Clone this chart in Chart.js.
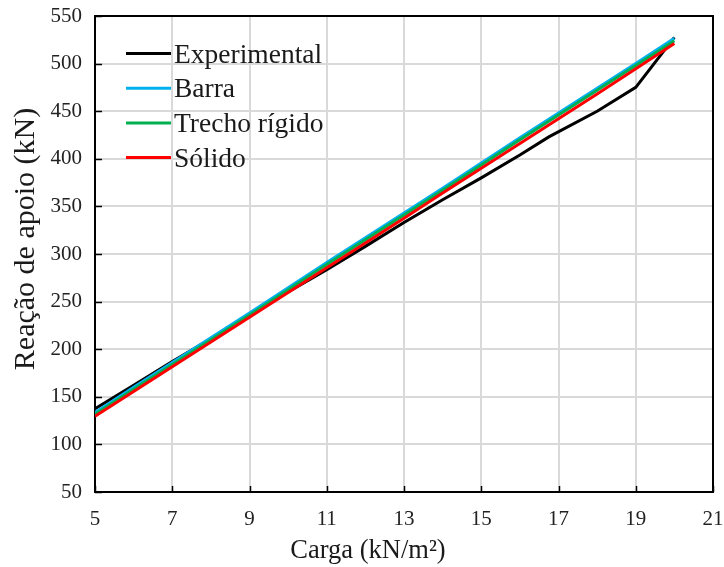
<!DOCTYPE html>
<html>
<head>
<meta charset="utf-8">
<script src="https://cdn.jsdelivr.net/npm/chart.js@4/dist/chart.umd.min.js"></script>
<style>
  html, body { margin: 0; padding: 0; background: #ffffff; }
  #wrap { width: 724px; height: 567px; }
</style>
</head>
<body>
<div id="wrap"><canvas id="chart" width="724" height="567"></canvas></div>
<script>
// Applied load (kN/m²) and support reaction (kN)
const modelLoads = [5, 6, 7, 8, 9, 10, 11, 12, 13, 14, 15, 16, 17, 18, 19, 20];
const expLoads   = [5, 6, 7, 8, 9, 10, 11, 12, 13, 14, 15, 16, 16.75, 18, 19, 20];

const experimental = [137.5, 162, 187, 211, 236, 260, 283.5, 308, 333, 357, 380, 404, 423, 450, 475, 527.5];
const barra        = [133.5, 160, 186, 212, 238, 264.5, 291, 317, 343, 369, 395.5, 422, 448, 474, 500, 526.5];
const trecho       = [131.5, 158, 184, 210, 236, 262.5, 289, 315, 341, 367, 393.5, 420, 446, 472, 498, 524];
const solido       = [129.5, 155.5, 181.5, 207.5, 233.5, 259.5, 285.5, 311.5, 337.5, 364, 390, 416, 442, 468, 494.5, 521];

const seriesNames = ['Experimental', 'Barra', 'Trecho rígido', 'Sólido'];
const seriesColors = ['#000000', '#00B0F0', '#00B050', '#FF0000'];

const xTicks = [5, 7, 9, 11, 13, 15, 17, 19, 21];
const yTicks = [50, 100, 150, 200, 250, 300, 350, 400, 450, 500, 550];

const xTitle = 'Carga (kN/m²)';
const yTitle = 'Reação de apoio (kN)';

const SERIF = '"Liberation Serif", "Times New Roman", serif';

function pts(xs, ys) { return xs.map((x, i) => ({ x: x, y: ys[i] })); }

const seriesData = [
  pts(expLoads, experimental),
  pts(modelLoads, barra),
  pts(modelLoads, trecho),
  pts(modelLoads, solido)
];

// plot frame and inward tick marks
const framePlugin = {
  id: 'frame',
  beforeDatasetsDraw(chart) {
    const { ctx, chartArea: a, scales: { x, y } } = chart;
    ctx.save();
    ctx.strokeStyle = '#000';
    ctx.lineWidth = 1.5;
    ctx.beginPath();
    y.ticks.forEach(t => {
      const py = Math.round(y.getPixelForValue(t.value)) + 0.5;
      ctx.moveTo(a.left, py); ctx.lineTo(a.left + 7, py);
    });
    x.ticks.forEach(t => {
      const px = Math.round(x.getPixelForValue(t.value)) + 0.5;
      ctx.moveTo(px, a.bottom); ctx.lineTo(px, a.bottom - 6);
    });
    ctx.stroke();
    ctx.lineWidth = 2;
    ctx.strokeRect(a.left, a.top, a.right - a.left, a.bottom - a.top);
    ctx.restore();
  }
};

// legend drawn inside the plot, upper left
const legendPlugin = {
  id: 'insideLegend',
  afterDatasetsDraw(chart) {
    const { ctx, chartArea: a } = chart;
    ctx.save();
    ctx.font = '27.5px ' + SERIF;
    ctx.textBaseline = 'alphabetic';
    ctx.textAlign = 'left';
    chart.data.datasets.forEach((ds, i) => {
      const rowY = a.top + 37.5 + i * 34.7;
      ctx.strokeStyle = ds.borderColor;
      ctx.lineWidth = 3;
      ctx.beginPath();
      ctx.moveTo(a.left + 31, rowY);
      ctx.lineTo(a.left + 76, rowY);
      ctx.stroke();
      ctx.fillStyle = '#1a1a1a';
      ctx.fillText(ds.label, a.left + 79, rowY + 9);
    });
    ctx.restore();
  }
};

// axis titles
const titlePlugin = {
  id: 'axisTitles',
  afterDraw(chart) {
    const { ctx } = chart;
    ctx.save();
    ctx.fillStyle = '#1a1a1a';
    ctx.textAlign = 'center';
    ctx.textBaseline = 'middle';
    ctx.font = '26.5px ' + SERIF;
    ctx.fillText(xTitle, 368, 551);
    ctx.font = '30px ' + SERIF;
    ctx.translate(26, 239);
    ctx.rotate(-Math.PI / 2);
    ctx.fillText(yTitle, 0, 0);
    ctx.restore();
  }
};

new Chart(document.getElementById('chart'), {
  type: 'line',
  data: {
    datasets: seriesNames.map((name, i) => ({
      label: name,
      data: seriesData[i],
      borderColor: seriesColors[i],
      backgroundColor: seriesColors[i],
      borderWidth: 3,
      pointRadius: 0,
      tension: 0,
      fill: false,
      order: seriesNames.length - i
    }))
  },
  options: {
    responsive: false,
    animation: false,
    devicePixelRatio: 1,
    layout: { padding: { top: 16, right: 11, bottom: 0, left: 0 } },
    plugins: {
      legend: { display: false },
      tooltip: { enabled: false }
    },
    scales: {
      x: {
        type: 'linear',
        min: 5, max: 21,
        afterBuildTicks(scale) { scale.ticks = xTicks.map(v => ({ value: v })); },
        afterFit(scale) { scale.height = 75; scale.paddingLeft = 0; scale.paddingRight = 0; },
        grid: { color: '#d9d9d9', lineWidth: 2, drawTicks: false },
        border: { display: false },
        ticks: {
          padding: 15,
          color: '#222',
          font: { family: SERIF, size: 21 },
          maxRotation: 0
        }
      },
      y: {
        type: 'linear',
        min: 50, max: 550,
        afterBuildTicks(scale) { scale.ticks = yTicks.map(v => ({ value: v })); },
        afterFit(scale) { scale.width = 95; scale.paddingTop = 0; scale.paddingBottom = 0; },
        grid: { color: '#d9d9d9', lineWidth: 2, drawTicks: false },
        border: { display: false },
        ticks: {
          padding: 13,
          color: '#222',
          font: { family: SERIF, size: 21 }
        }
      }
    }
  },
  plugins: [framePlugin, legendPlugin, titlePlugin]
});
</script>
</body>
</html>
